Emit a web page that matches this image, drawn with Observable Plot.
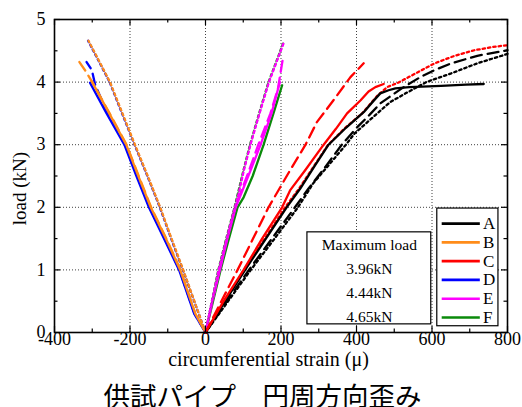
<!DOCTYPE html>
<html><head><meta charset="utf-8">
<script src="https://cdn.jsdelivr.net/npm/d3@7"></script>
<script src="https://cdn.jsdelivr.net/npm/@observablehq/plot@0.6"></script>
<style>
body{margin:0;background:#fff;}
#wrap{position:relative;width:522px;height:407px;overflow:hidden;}
#title{position:absolute;left:0;top:382px;width:525px;text-align:center;font-family:"Noto Sans CJK JP";font-size:26.5px;line-height:25px;color:#000;}
</style></head><body><div id="wrap"><div id="chart"></div><div id="title">供試パイプ　円周方向歪み</div></div>
<script>
// ---- data (strain μ, load kN) ----
const samples = ["A","B","C","D","E","F"];
const sampleColors = ["#000000","#ff8c1a","#ff0000","#0000ff","#ff00ff","#0a8a0a"];
const maxLoadLabels = ["Maximum load","3.96kN","4.44kN","4.65kN"];
const xTickValues = [-400,-200,0,200,400,600,800];
const yTickValues = [0,1,2,3,4,5];

const A_solid  = [[0,0],[52,0.5],[105,1],[160,1.5],[215,2],[251,2.3],[288,2.65],[326,3],[372,3.27],[419,3.52],[445,3.7],[463,3.82],[485,3.87],[503,3.9],[540,3.92],[624,3.94],[690,3.96],[737,3.97]];
const A_dashed = [[0,0],[57,0.5],[115,1],[176,1.5],[237,2],[273,2.3],[318,2.65],[361,3],[402,3.28],[435,3.48],[463,3.66],[520,3.9],[569,4.08],[610,4.2],[651,4.3],[720,4.42],[800,4.51]];
const A_dotted = [[0,0],[60,0.5],[120,1],[183,1.5],[245,2],[285,2.38],[330,2.7],[372,3],[395,3.18],[440,3.42],[489,3.68],[530,3.82],[585,4.0],[651,4.14],[720,4.3],[800,4.45]];

const B_solid  = [[0,0],[-27,0.3],[-67,1],[-105,1.5],[-145,2],[-178,2.5],[-210,3],[-255,3.5],[-302,4.02]];
const B_dashed = [[0,0],[-27,0.3],[-66,1],[-104,1.5],[-144,2],[-177,2.5],[-209,3],[-254,3.5],[-300,4.0],[-318,4.18],[-334,4.32]];
const B_dotted = [[0,0],[-59,1],[-90,1.5],[-120,2],[-153,2.5],[-187,3],[-220,3.5],[-253,4],[-283,4.35],[-310,4.66]];

const C_solid  = [[0,0],[48,0.5],[101,1],[150,1.5],[203,2],[224,2.27],[265,2.6],[313,3],[345,3.25],[375,3.5],[411,3.71],[432,3.85],[450,3.92],[472,3.97]];
const C_dashed = [[0,0],[42,0.5],[85,1],[126,1.5],[167,2],[224,2.59],[265,3],[295,3.36],[339,3.71],[384,4.08],[419,4.3]];
const C_dotted = [[0,0],[51,0.5],[102,1],[157,1.5],[211,2],[248,2.3],[325,3],[370,3.27],[415,3.5],[455,3.78],[481,3.92],[510,3.99],[560,4.15],[607,4.3],[660,4.42],[713,4.51],[760,4.56],[800,4.59]];

const D_solid  = [[0,0],[-30,0.3],[-70,1],[-110,1.5],[-150,2],[-183,2.5],[-215,3],[-262,3.5],[-306,3.99]];
const D_dashed = [[0,0],[-29,0.3],[-69,1],[-108,1.5],[-148,2],[-181,2.5],[-213,3],[-259,3.5],[-292,3.95],[-301,4.19],[-315,4.32]];
const D_dotted = [[0,0],[-60,1],[-91,1.5],[-121,2],[-154,2.5],[-188,3],[-221,3.5],[-254,4],[-284,4.35],[-311,4.66]];

const E_solid  = [[0,0],[18,0.5],[38,1],[58,1.5],[80,2],[120,2.6],[146,3],[175,3.5],[197,4.0]];
const E_dashed = [[0,0],[18,0.5],[37,1],[57,1.5],[78,2],[110,2.5],[140,3],[172,3.5],[192,3.9],[204,4.34]];
const E_dotted = [[0,0],[17,0.5],[35,1],[56,1.5],[78,2],[87,2.2],[102,2.6],[119,3],[143,3.5],[168,4],[190,4.35],[208,4.64]];

const F_solid  = [[0,0],[20,0.5],[40,1],[62,1.5],[85,2],[101,2.16],[125,2.5],[154,3],[180,3.5],[203,3.95]];
const F_dotted = [[0,0],[17,0.5],[34,1],[55,1.5],[77,2],[101,2.6],[118,3],[142,3.5],[167,4],[189,4.35],[207,4.64]];

// ---- drawing ----
const dash = {solid: null, dashed: "11,6", dotted: "2.4,3"};
const col = Object.fromEntries(samples.map((s,i)=>[s, sampleColors[i]]));
const lines = [
  ["D","dotted",D_dotted],["B","dotted",B_dotted],
  ["D","dashed",D_dashed],["B","dashed",B_dashed],
  ["D","solid",D_solid],["B","solid",B_solid],
  ["F","solid",F_solid],["E","solid",E_solid],["E","dashed",E_dashed],
  ["F","dotted",F_dotted],["E","dotted",E_dotted],
  ["C","dotted",C_dotted],["A","dotted",A_dotted],["A","dashed",A_dashed],
  ["A","solid",A_solid],["C","dashed",C_dashed],["C","solid",C_solid]
];

const W = 522, H = 375, mL = 54, mR = 15, mT = 19, mB = 43;
const innerW = W - mL - mR, innerH = H - mT - mB;
const xMinor = d3.range(-300, 800, 200);
const yMinor = d3.range(0.5, 5, 1);
const serif = "Liberation Serif";

const marks = [];
marks.push(Plot.gridX(xTickValues.slice(1,-1), {stroke:"#000", strokeOpacity:0.75, strokeDasharray:"1,2"}));
marks.push(Plot.gridY(yTickValues.slice(1,-1), {stroke:"#000", strokeOpacity:0.75, strokeDasharray:"1,2"}));
// inset box for maximum load
marks.push(Plot.rect([0], {x1: 270, x2: 598, y1: 0.13, y2: 1.6, fill:"white", stroke:"black", strokeWidth:1.2}));
marks.push(Plot.text(maxLoadLabels, {x: 434, y: (d,i)=> 1.39 - i*0.38, text: d=>d, fontSize: 15.5, fontFamily: serif, fill:"black"}));
// legend
marks.push(Plot.rect([0], {x1: 614, x2: 776, y1: 0.1, y2: 1.98, fill:"white", stroke:"black", strokeWidth:1.2}));
marks.push(Plot.ruleY(samples, {y: (d,i)=> 1.74 - i*0.3, x1: 627, x2: 728, stroke: (d,i)=> sampleColors[i], strokeWidth: 2.6}));
marks.push(Plot.text(samples, {x: 735, y: (d,i)=> 1.74 - i*0.3, text: d=>d, textAnchor:"start", fontSize: 17, fontFamily: serif, fill:"black"}));
// data lines
for (const [s, style, pts] of lines) {
  marks.push(Plot.line(pts, {x: d=>d[0], y: d=>d[1], stroke: col[s], strokeWidth: 2.3, strokeDasharray: dash[style], strokeLinejoin:"round"}));
}
// ticks (inward) on all four sides
const tk = (len) => innerH - len, tkw = (len) => innerW - len;
marks.push(Plot.tickX(xTickValues, {x: d=>d, insetTop: tk(6), stroke:"black", strokeWidth:1.2}));
marks.push(Plot.tickX(xMinor, {x: d=>d, insetTop: tk(3.5), stroke:"black", strokeWidth:1.2}));
marks.push(Plot.tickX(xTickValues, {x: d=>d, insetBottom: tk(6), stroke:"black", strokeWidth:1.2}));
marks.push(Plot.tickX(xMinor, {x: d=>d, insetBottom: tk(3.5), stroke:"black", strokeWidth:1.2}));
marks.push(Plot.tickY(yTickValues, {y: d=>d, insetRight: tkw(6), stroke:"black", strokeWidth:1.2}));
marks.push(Plot.tickY(yMinor, {y: d=>d, insetRight: tkw(3.5), stroke:"black", strokeWidth:1.2}));
marks.push(Plot.tickY(yTickValues, {y: d=>d, insetLeft: tkw(6), stroke:"black", strokeWidth:1.2}));
marks.push(Plot.tickY(yMinor, {y: d=>d, insetLeft: tkw(3.5), stroke:"black", strokeWidth:1.2}));
marks.push(Plot.frame({stroke:"black", strokeWidth:1.6}));
// axes (labels only)
marks.push(Plot.axisX(xTickValues, {tickSize:0, tickPadding:0, tickFormat: d=>String(d), label:null, fontSize:18, fontFamily: serif, fill:"black"}));
marks.push(Plot.axisY(yTickValues, {tickSize:0, tickPadding:9, tickFormat: d=>String(d), label:null, fontSize:18, fontFamily: serif, fill:"black"}));
marks.push(Plot.text(["circumferential strain (μ)"], {x: 167, y: 0, dy: 27, text:d=>d, fontSize:20, fontFamily: serif, fill:"black", lineAnchor:"middle"}));
marks.push(Plot.text(["load (kN)"], {x: -400, y: 2.3, dx: -35, rotate:-90, text:d=>d, fontSize:19, fontFamily: serif, fill:"black"}));

const chart = Plot.plot({
  width: W, height: H,
  marginLeft: mL, marginRight: mR, marginTop: mT, marginBottom: mB,
  x: {domain: [-400, 800]},
  y: {domain: [0, 5]},
  style: {fontFamily: serif, color: "black", background: "white"},
  marks
});
document.getElementById("chart").appendChild(chart);
</script></body></html>
